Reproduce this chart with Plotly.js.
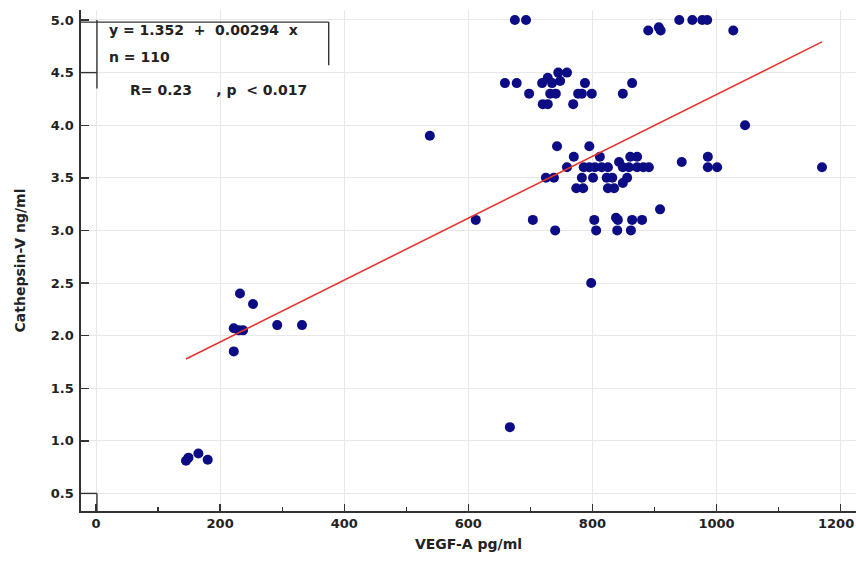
<!DOCTYPE html>
<html>
<head>
<meta charset="utf-8">
<script src="https://cdn.plot.ly/plotly-3.0.1.min.js"></script>
<style>html,body{margin:0;padding:0;background:#fff;}#chart{width:856px;height:562px;}</style>
</head>
<body>
<div id="chart"></div>
<script>
// VEGF-A (pg/ml)
const vegfA = [
  145,149,165,180,222,222,230,237,232,253,292,332,538,612,667,
  675,693,940,961,977,985,890,907,910,1027,
  659,678,698,719,720,728,728,735,732,741,745,748,759,769,777,783,788,799,849,864,
  743,795,770,812,861,872,759,786,795,804,815,825,843,849,859,872,882,891,944,986,986,1001,1170,
  725,738,783,801,823,832,856,774,785,825,835,849,909,704,803,838,841,864,880,740,806,840,862,798,1046
];
// Cathepsin-V (ng/ml)
const cathepsinV = [
  0.81,0.84,0.88,0.82,1.85,2.07,2.05,2.05,2.40,2.30,2.10,2.10,3.90,3.10,1.13,
  5.00,5.00,5.00,5.00,5.00,5.00,4.90,4.93,4.90,4.90,
  4.40,4.40,4.30,4.40,4.20,4.20,4.45,4.40,4.30,4.30,4.50,4.42,4.50,4.20,4.30,4.30,4.40,4.30,4.30,4.40,
  3.80,3.80,3.70,3.70,3.70,3.70,3.60,3.60,3.60,3.60,3.60,3.60,3.65,3.60,3.60,3.60,3.60,3.60,3.65,3.70,3.60,3.60,3.60,
  3.50,3.50,3.50,3.50,3.50,3.50,3.50,3.40,3.40,3.40,3.40,3.45,3.20,3.10,3.10,3.12,3.10,3.10,3.10,3.00,3.00,3.00,3.00,2.50,4.00
];
// Regression y = a + b x
const intercept = 1.352;
const slope = 0.00294;
const statText = ["y = 1.352  +  0.00294  x", "n = 110", "R= 0.23     , p  < 0.017"];
const xTicks = [0,200,400,600,800,1000,1200];
const yTicks = [0.5,1.0,1.5,2.0,2.5,3.0,3.5,4.0,4.5,5.0];

const xMin = Math.min(...vegfA), xMax = Math.max(...vegfA);
const lineX = [xMin, xMax];
const lineY = lineX.map(v => intercept + slope * v);

const font = {family: "DejaVu Sans, Verdana, sans-serif", color: "#222"};

const traces = [
  {x: vegfA, y: cathepsinV, type: "scatter", mode: "markers",
   marker: {color: "#0c0c85", size: 10, line: {width: 0}}, hoverinfo: "skip"},
  {x: lineX, y: lineY, type: "scatter", mode: "lines",
   line: {color: "#e8342c", width: 1.6}, hoverinfo: "skip"}
];

const ax = "#333";
const shapes = [
  // stats box bracket
  {type: "line", xref: "x", yref: "y", x0: -24.2, x1: 375, y0: 4.98, y1: 4.98, line: {color: ax, width: 1.4}},
  {type: "line", xref: "x", yref: "y", x0: 375, x1: 375, y0: 4.98, y1: 4.57, line: {color: ax, width: 1.4}},
  {type: "line", xref: "x", yref: "y", x0: 1.5, x1: 1.5, y0: 5.0, y1: 4.35, line: {color: ax, width: 1.4}},
  {type: "line", xref: "x", yref: "y", x0: -24.2, x1: 1.5, y0: 4.5, y1: 4.5, line: {color: ax, width: 1.4}},
  // bottom-left bracket
  {type: "line", xref: "x", yref: "y", x0: -24.2, x1: 1.5, y0: 0.5, y1: 0.5, line: {color: ax, width: 1.4}},
  {type: "line", xref: "x", yref: "y", x0: 1.5, x1: 1.5, y0: 0.5, y1: 0.333, line: {color: ax, width: 1.4}}
];

const tickFont = Object.assign({}, font, {size: 13, weight: "bold"});
const annFont = Object.assign({}, font, {size: 14, weight: "bold"});
const lastTick = xTicks[xTicks.length - 1];
const annotations = [
  {xref: "x", yref: "y", x: 17.7, y: 4.905, text: statText[0], showarrow: false, xanchor: "left", yanchor: "middle", font: annFont},
  {xref: "x", yref: "y", x: 17.7, y: 4.65, text: statText[1], showarrow: false, xanchor: "left", yanchor: "middle", font: annFont},
  {xref: "x", yref: "y", x: 51.6, y: 4.335, text: statText[2], showarrow: false, xanchor: "left", yanchor: "middle", font: annFont},
  // last x tick label kept inside the page edge
  {xref: "paper", yref: "paper", x: 1, y: -0.024, text: String(lastTick), showarrow: false, xanchor: "right", yanchor: "middle", font: tickFont}
];

const layout = {
  width: 856, height: 562,
  margin: {l: 81, r: 0, t: 10, b: 51},
  paper_bgcolor: "#fff", plot_bgcolor: "#fff",
  showlegend: false,
  xaxis: {
    range: [-24.2, 1224.8], tickvals: xTicks, ticktext: xTicks.map(v => v === lastTick ? "" : String(v)),
    showgrid: true, gridcolor: "#e8e8e8", gridwidth: 1, zeroline: false,
    showline: true, linecolor: ax, linewidth: 1.6,
    ticks: "inside", ticklen: 7, tickwidth: 1.4, tickcolor: ax,
    minor: {dtick: 100, tick0: 0, ticks: "inside", ticklen: 4, tickwidth: 1.2, tickcolor: ax, showgrid: false},
    tickfont: tickFont,
    title: {text: "VEGF-A pg/ml", font: Object.assign({}, font, {size: 14, weight: "bold"}), standoff: 9},
    automargin: false
  },
  yaxis: {
    range: [0.333, 5.095], tickvals: yTicks, ticktext: yTicks.map(v => v.toFixed(1)),
    showgrid: true, gridcolor: "#e8e8e8", gridwidth: 1, zeroline: false,
    showline: true, linecolor: ax, linewidth: 1.6,
    ticks: "inside", ticklen: 8, tickwidth: 1.4, tickcolor: ax,
    tickfont: tickFont,
    ticklabelstandoff: 3,
    title: {text: "Cathepsin-V ng/ml", font: Object.assign({}, font, {size: 14, weight: "bold"}), standoff: 22},
    automargin: false
  },
  shapes: shapes,
  annotations: annotations
};

Plotly.newPlot("chart", traces, layout, {displayModeBar: false, staticPlot: true});
</script>
</body>
</html>
